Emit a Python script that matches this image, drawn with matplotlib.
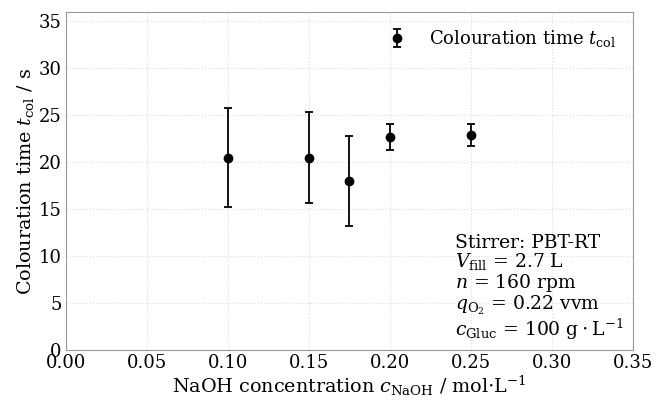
import matplotlib
matplotlib.use("Agg")
import matplotlib.pyplot as plt
import numpy as np

plt.rcParams['font.family'] = 'DejaVu Serif'
plt.rcParams['mathtext.fontset'] = 'dejavuserif'
plt.rcParams['font.size'] = 13

# data
naoh = [0.10, 0.15, 0.175, 0.20, 0.25]
t_col = [20.5, 20.5, 18.0, 22.7, 22.9]
t_err = [5.3, 4.85, 4.8, 1.4, 1.2]

fig, ax = plt.subplots(figsize=(6.58, 4.0), dpi=100)
ax.errorbar(naoh, t_col, yerr=t_err, fmt='o', color='black', ms=6,
            capsize=3, elinewidth=1.3, capthick=1.3,
            label=r'Colouration time $t_\mathrm{col}$', zorder=5)

ax.set_xlim(0, 0.35)
ax.set_ylim(0, 36)
ax.set_xticks(np.arange(0, 0.351, 0.05))
ax.set_yticks(np.arange(0, 36, 5))
ax.xaxis.set_major_formatter(matplotlib.ticker.FormatStrFormatter('%.2f'))
ax.grid(True, color='#dddddd', linestyle=':', linewidth=0.8)
ax.tick_params(length=0, pad=3)
for s in ax.spines.values():
    s.set_color('#999999')

ax.set_xlabel(r'NaOH concentration $c_\mathrm{NaOH}$ / mol$\cdot$L$^{-1}$',
              fontsize=13.8, labelpad=1)
ax.set_ylabel(r'Colouration time $t_\mathrm{col}$ / s', fontsize=13.8, labelpad=2)
ax.legend(loc='upper right', frameon=False, handletextpad=0.8)

info = ('Stirrer: PBT-RT\n'
        r'$V_\mathrm{fill}$ = 2.7 L' + '\n'
        r'$n$ = 160 rpm' + '\n'
        r'$q_{\mathrm{O}_2}$ = 0.22 vvm' + '\n'
        r'$c_\mathrm{Gluc}$ = 100 $\mathrm{g}\cdot\mathrm{L}^{-1}$')
ax.text(0.686, 0.025, info, transform=ax.transAxes, ha='left', va='bottom',
        fontsize=13.5, linespacing=0.98)

plt.subplots_adjust(left=0.1, right=0.962, top=0.97, bottom=0.125)
plt.savefig('out.png', dpi=100)
